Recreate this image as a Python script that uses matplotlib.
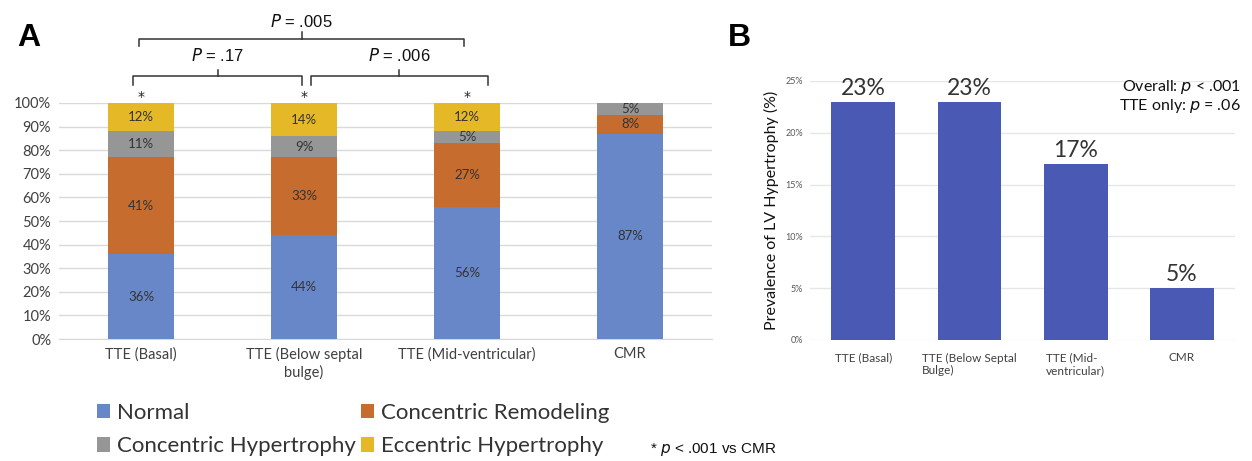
import matplotlib
matplotlib.use("Agg")
import matplotlib.pyplot as plt
from matplotlib.ticker import PercentFormatter
import numpy as np

# ---------------- data ----------------
cats_a = ["TTE (Basal)", "TTE (Below septal\nbulge)", "TTE (Mid-ventricular)", "CMR"]
normal = [36, 44, 56, 87]
conc_remodel = [41, 33, 27, 8]
conc_hyper = [11, 9, 5, 5]
ecc_hyper = [12, 14, 12, 0]
series_names = ["Normal", "Concentric Remodeling", "Concentric Hypertrophy", "Eccentric Hypertrophy"]

cats_b = ["TTE (Basal)", "TTE (Below Septal\nBulge)", "TTE (Mid-\nventricular)", "CMR"]
lvh_prev = [23, 23, 17, 5]

comparisons = [(0, 1, "P = .17"), (1, 2, "P = .006"), (0, 2, "P = .005")]

# ---------------- style ----------------
c_norm = "#6787C9"
c_rem = "#C66C2F"
c_hyp = "#969696"
c_ecc = "#E5B828"
c_b = "#4A59B3"
grid_c = "#D9D9D9"
txt_c = "#404040"
cal = ["Lato", "DejaVu Sans"]
ari = ["Liberation Sans", "DejaVu Sans"]

fig = plt.figure(figsize=(12.52, 4.61), dpi=100)

# ---------------- panel A ----------------
axA = fig.add_axes([0.0475, 0.2646, 0.5208, 0.512])
x = np.arange(len(cats_a))
w = 0.4
bottom = np.zeros(len(cats_a))
handles = []
for vals, col, name in zip([normal, conc_remodel, conc_hyper, ecc_hyper],
                           [c_norm, c_rem, c_hyp, c_ecc], series_names):
    vals = np.array(vals, dtype=float)
    b = axA.bar(x, vals, w, bottom=bottom, color=col, label=name, zorder=3)
    handles.append(b)
    for xi, v, bt in zip(x, vals, bottom):
        if v > 0:
            axA.text(xi, bt + v / 2, f"{int(v)}%", ha="center", va="center",
                     fontsize=9.5, color="#333333", family=cal, zorder=4)
    bottom += vals

axA.set_xlim(-0.5, len(cats_a) - 0.5)
axA.set_ylim(0, 100)
axA.set_yticks(np.arange(0, 101, 10))
axA.yaxis.set_major_formatter(PercentFormatter(decimals=0))
axA.set_xticks(x)
axA.set_xticklabels(cats_a, family=cal, fontsize=10.5, color=txt_c)
for lab in axA.get_yticklabels():
    lab.set_family(cal)
    lab.set_fontsize(10.5)
    lab.set_color(txt_c)
axA.tick_params(length=0, pad=6)
axA.grid(axis="y", color=grid_c, lw=1, zorder=0)
for s in ["top", "right", "left"]:
    axA.spines[s].set_visible(False)
axA.spines["bottom"].set_color(grid_c)

# asterisks above TTE bars
for xi in x[:3]:
    axA.text(xi, 102.5, "*", ha="center", va="center", fontsize=10, color="#222222", clip_on=False)

def bracket(ax, x0, x1, yb, h, tip, label, ty):
    xm = (x0 + x1) / 2
    ax.plot([x0, x0, x1, x1], [yb - h, yb, yb, yb - h], color="#333333", lw=1.1, clip_on=False)
    ax.plot([xm, xm], [yb, yb + tip], color="#333333", lw=1.1, clip_on=False)
    ax.text(xm, ty, label, ha="center", va="center", fontsize=12, family=ari, color="#111111",
            clip_on=False)

def plabel(s):
    return s.replace("P", r"$\it{P}$")

bracket(axA, x[0] - 0.05, x[1] - 0.01, 111.4, 3.8, 2.6, plabel(comparisons[0][2]), 120.3)
bracket(axA, x[1] + 0.04, x[2] + 0.13, 111.4, 3.8, 2.6, plabel(comparisons[1][2]), 120.3)
bracket(axA, x[0] - 0.01, x[2] - 0.02, 127.3, 3.0, 2.6, plabel(comparisons[2][2]), 134.5)

leg = fig.legend([handles[0], handles[2], handles[1], handles[3]],
                 [series_names[0], series_names[2], series_names[1], series_names[3]],
                 ncol=2, loc="upper left", bbox_to_anchor=(0.070, 0.146), frameon=False,
                 prop={"family": cal, "size": 16}, handlelength=0.6, handleheight=0.6,
                 handletextpad=0.3, columnspacing=0.25, labelspacing=0.62, borderaxespad=0)
for t in leg.get_texts():
    t.set_color("#333333")

fig.text(0.519, 0.024, r"* $\it{p}$ < .001 vs CMR", fontsize=11, family=ari, color="#111111",
         ha="left", va="center")

fig.text(0.014, 0.918, "A", fontsize=23, fontweight="bold", family=ari, ha="left", va="center")
fig.text(0.581, 0.918, "B", fontsize=23, fontweight="bold", family=ari, ha="left", va="center")

# ---------------- panel B ----------------
axB = fig.add_axes([0.647, 0.2625, 0.3395, 0.5618])
xb = np.arange(len(cats_b))
axB.bar(xb, lvh_prev, 0.6, color=c_b, zorder=3)
for xi, v in zip(xb, lvh_prev):
    axB.text(xi, v + 0.3, f"{v}%", ha="center", va="bottom", fontsize=16.5, family=cal,
             color="#333333")
axB.set_xlim(-0.5, len(cats_b) - 0.5)
axB.set_ylim(0, 25)
axB.set_yticks(np.arange(0, 26, 5))
axB.yaxis.set_major_formatter(PercentFormatter(decimals=0))
axB.set_xticks(xb)
axB.set_xticklabels(cats_b, family=cal, fontsize=8.5, color=txt_c, ha="center",
                    multialignment="left")
for lab in axB.get_yticklabels():
    lab.set_family(cal)
    lab.set_fontsize(6.5)
    lab.set_color("#595959")
axB.tick_params(length=0, pad=5)
axB.tick_params(axis="x", pad=9)
axB.grid(axis="y", color="#E6E6E6", lw=1, zorder=0)
for s in ["top", "right", "left", "bottom"]:
    axB.spines[s].set_visible(False)
axB.set_ylabel("Prevalence of LV Hypertrophy (%)", family=cal, fontsize=11.5, color="#111111", labelpad=5)

fig.text(0.991, 0.812, r"Overall: $\it{p}$ < .001", fontsize=11.5, family=cal, ha="right", va="center",
         color="#111111")
fig.text(0.991, 0.770, r"TTE only: $\it{p}$ = .06", fontsize=11.5, family=cal, ha="right", va="center",
         color="#111111")

fig.savefig("out.png", dpi=100, facecolor="white")
